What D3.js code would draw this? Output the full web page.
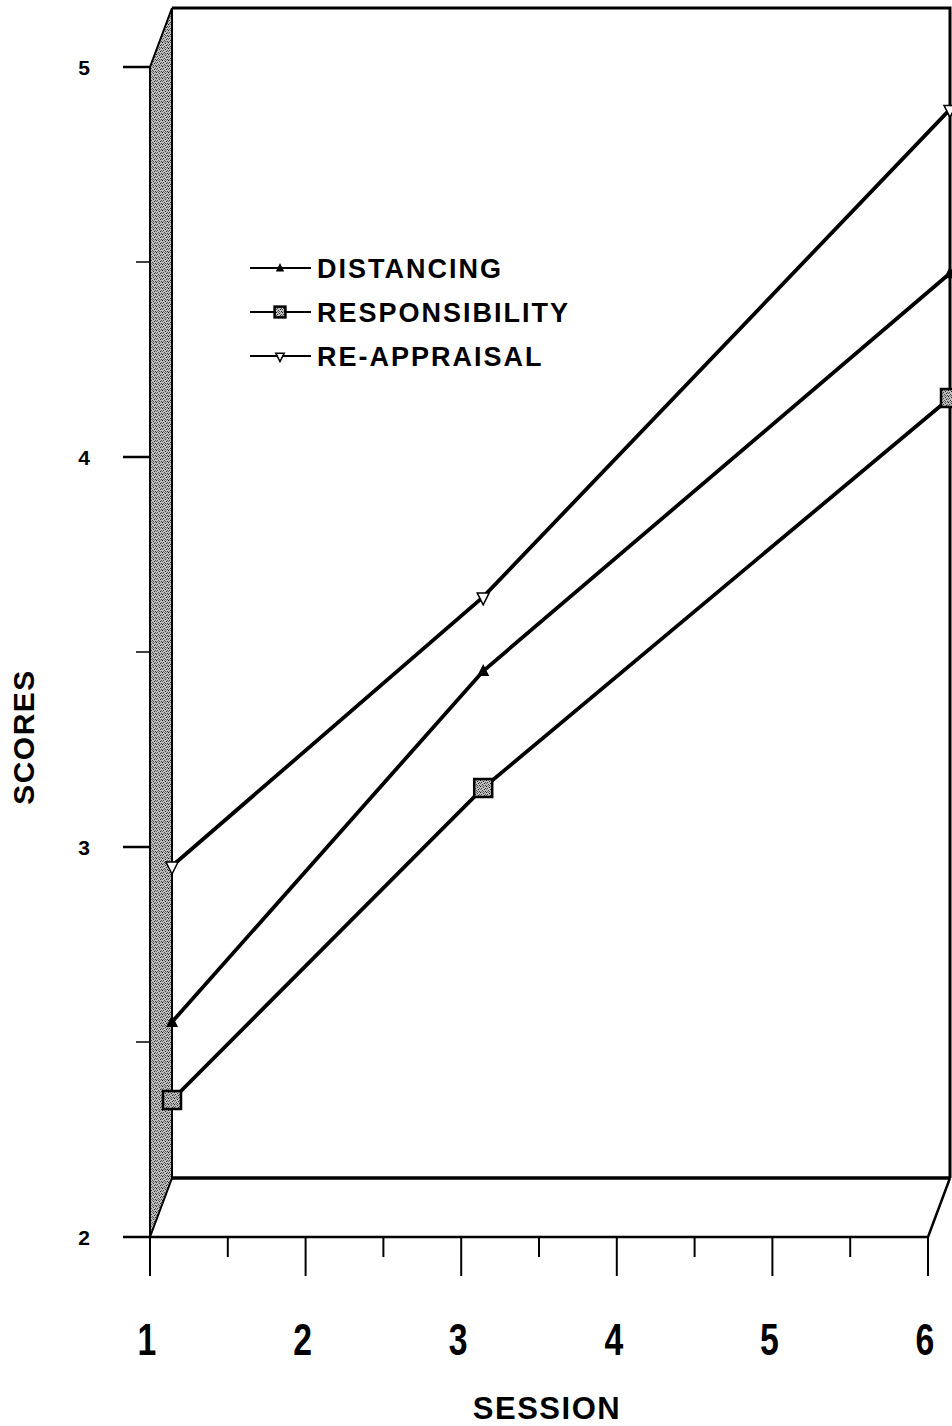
<!DOCTYPE html>
<html>
<head>
<meta charset="utf-8">
<script src="https://cdn.jsdelivr.net/npm/d3@7"></script>
<style>
  html, body { margin: 0; padding: 0; background: #fff; }
  svg { display: block; }
  text { font-family: "Liberation Sans", Arial, Helvetica, sans-serif; font-weight: bold; fill: #000; }
</style>
</head>
<body>
<div id="chart"></div>
<script>
// ---- data ----
const sessions = [1, 3, 6];
const seriesNames = ["DISTANCING", "RESPONSIBILITY", "RE-APPRAISAL"];
const distancing = [2.40, 3.30, 4.32];
const responsibility = [2.20, 3.00, 4.00];
const reappraisal = [2.80, 3.49, 4.74];
const xTicks = [1, 2, 3, 4, 5, 6];
const xMinorTicks = [1.5, 2.5, 3.5, 4.5, 5.5];
const yTicks = [2, 3, 4, 5];
const yMinorTicks = [2.5, 3.5, 4.5];
const xTitle = "SESSION";
const yTitle = "SCORES";

const W = 952, H = 1426;
const svg = d3.select("#chart").append("svg").attr("width", W).attr("height", H);

const x = d3.scaleLinear().domain([1, 6]).range([150, 928]);
const y = d3.scaleLinear().domain([2, 5]).range([1237, 67]);
const dx = 22, dy = -59; // 3D depth offset

// stipple pattern
const defs = svg.append("defs");
const pat = defs.append("pattern").attr("id", "stip").attr("patternUnits", "userSpaceOnUse")
  .attr("width", 6).attr("height", 6).attr("shape-rendering", "crispEdges");
pat.append("rect").attr("width", 6).attr("height", 6).attr("fill", "#bdbdbd");
const dots = [[0,0,"#111"],[3,1,"#333"],[1,2,"#444"],[4,3,"#222"],[2,4,"#444"],[5,5,"#333"],[0,3,"#666"],[3,5,"#555"],[5,2,"#555"],[2,0,"#777"],[4,0,"#888"],[1,5,"#777"]];
dots.forEach(([px, py, c]) => pat.append("rect").attr("x", px).attr("y", py).attr("width", 1).attr("height", 1).attr("fill", c));

const x0 = x(1), x1 = x(6), yb = y(2), yt = y(5);

// left wall
svg.append("path")
  .attr("d", `M${x0},${yt} L${x0 + dx},${yt + dy} L${x0 + dx},${yb + dy} L${x0},${yb} Z`)
  .attr("fill", "url(#stip)").attr("stroke", "#000").attr("stroke-width", 2);
// back top edge and right edge
svg.append("path")
  .attr("d", `M${x0 + dx},${yt + dy} L${x1 + dx},${yt + dy} L${x1 + dx},${yb + dy}`)
  .attr("fill", "none").attr("stroke", "#000").attr("stroke-width", 3);
// floor
svg.append("path")
  .attr("d", `M${x0 + dx},${yb + dy} L${x1 + dx},${yb + dy}`)
  .attr("stroke", "#000").attr("stroke-width", 3.5);
svg.append("path")
  .attr("d", `M${x0},${yb} L${x1},${yb} L${x1 + dx},${yb + dy}`)
  .attr("fill", "none").attr("stroke", "#000").attr("stroke-width", 2.5);
// front vertical axis line
svg.append("line").attr("x1", x0).attr("x2", x0).attr("y1", yt).attr("y2", yb)
  .attr("stroke", "#000").attr("stroke-width", 2);

// y ticks
svg.selectAll(".ytick").data(yTicks).enter().append("line")
  .attr("x1", x0 - 27).attr("x2", x0).attr("y1", d => y(d)).attr("y2", d => y(d))
  .attr("stroke", "#000").attr("stroke-width", 2.5);
svg.selectAll(".yminor").data(yMinorTicks).enter().append("line")
  .attr("x1", x0 - 14).attr("x2", x0).attr("y1", d => y(d)).attr("y2", d => y(d))
  .attr("stroke", "#000").attr("stroke-width", 1.5);
svg.selectAll(".ylab").data(yTicks).enter().append("text")
  .attr("x", 84).attr("y", d => y(d) + 8)
  .attr("text-anchor", "middle").attr("font-size", 21)
  .text(d => d);

// x ticks
svg.selectAll(".xtick").data(xTicks).enter().append("line")
  .attr("x1", d => x(d)).attr("x2", d => x(d)).attr("y1", yb).attr("y2", yb + 39)
  .attr("stroke", "#000").attr("stroke-width", 2);
svg.selectAll(".xminor").data(xMinorTicks).enter().append("line")
  .attr("x1", d => x(d)).attr("x2", d => x(d)).attr("y1", yb).attr("y2", yb + 20)
  .attr("stroke", "#000").attr("stroke-width", 2);
svg.selectAll(".xlab").data(xTicks).enter().append("text")
  .attr("transform", d => `translate(${x(d) - 3},1355) scale(0.75,1)`)
  .attr("text-anchor", "middle").attr("font-size", 45)
  .text(d => d);

// titles
svg.append("text").attr("x", 547).attr("y", 1419).attr("text-anchor", "middle")
  .attr("font-size", 31).attr("letter-spacing", 1.5).text(xTitle);
svg.append("text").attr("transform", "translate(34,737) rotate(-90)").attr("text-anchor", "middle")
  .attr("font-size", 30).attr("letter-spacing", 1.5).text(yTitle);

// series
const seriesData = [distancing, responsibility, reappraisal];
const line = d3.line().x((d, i) => x(sessions[i]) + dx).y(d => y(d) + dy);
const g = svg.append("g");
seriesData.forEach(vals => {
  g.append("path").attr("d", line(vals)).attr("fill", "none")
    .attr("stroke", "#000").attr("stroke-width", 3.8);
});

function drawMarker(sel, kind, cx, cy, s) {
  if (kind === 0) {
    sel.append("path")
      .attr("d", `M${cx},${cy - 7 * s} L${cx + 6 * s},${cy + 5 * s} L${cx - 6 * s},${cy + 5 * s} Z`)
      .attr("fill", "#000");
  } else if (kind === 1) {
    sel.append("rect").attr("x", cx - 9 * s).attr("y", cy - 9 * s).attr("width", 18 * s).attr("height", 18 * s)
      .attr("fill", "url(#stip)").attr("stroke", "#000").attr("stroke-width", 2.5);
  } else {
    sel.append("path")
      .attr("d", `M${cx - 6 * s},${cy - 4 * s} L${cx + 6 * s},${cy - 4 * s} L${cx},${cy + 8 * s} Z`)
      .attr("fill", "#fff").attr("stroke", "#000").attr("stroke-width", 1.5);
  }
}
seriesData.forEach((vals, k) => {
  vals.forEach((v, i) => drawMarker(g, k, x(sessions[i]) + dx, y(v) + dy, 1));
});

// legend
const legY = [268, 312, 356];
const lg = svg.append("g");
seriesNames.forEach((name, k) => {
  lg.append("line").attr("x1", 250).attr("x2", 311).attr("y1", legY[k]).attr("y2", legY[k])
    .attr("stroke", "#000").attr("stroke-width", 1.8);
  drawMarker(lg, k, 280, legY[k], k === 1 ? 0.6 : 0.7);
  lg.append("text").attr("x", 317).attr("y", legY[k] + 10)
    .attr("font-size", 27).attr("letter-spacing", 2.0).text(name);
});
</script>
</body>
</html>
